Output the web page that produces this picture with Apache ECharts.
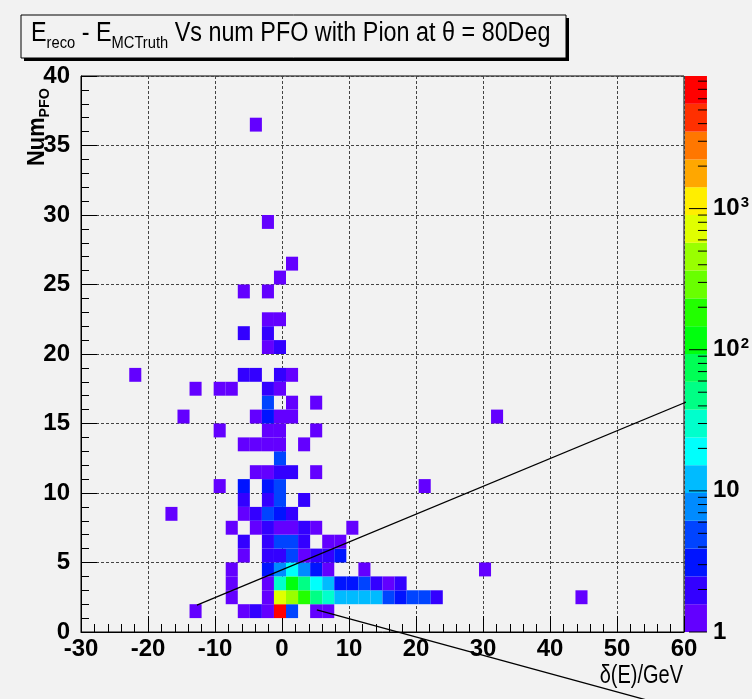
<!DOCTYPE html>
<html><head><meta charset="utf-8">
<script src="https://cdn.jsdelivr.net/npm/echarts@6/dist/echarts.min.js"></script>
<style>html,body{margin:0;padding:0;background:#f2f2f2}#c{width:752px;height:699px}</style>
</head><body><div id="c"></div>
<script>
// ---- histogram binning ----
const X_MIN = -30, X_MAX = 60, X_BINS = 50;
const Y_MIN = 0, Y_MAX = 40, Y_BINS = 40;
const xTickValues = [-30, -20, -10, 0, 10, 20, 30, 40, 50, 60];
const yTickValues = [0, 5, 10, 15, 20, 25, 30, 35, 40];
const zTickLabels = ['1', '10', '10{s|2}', '10{s|3}'];
const Z_MAX = 8700;

// ---- cells: x bin index, y bin index, counts ----
const cellXBin = [
  9,13,14,15,16,17,19,20,
  12,15,16,17,18,19,20,21,22,23,24,25,26,27,28,29,41,
  12,15,16,17,18,19,20,21,22,23,24,25,26,
  12,15,16,17,18,19,20,23,33,
  13,15,16,17,18,19,20,21,
  13,15,16,17,18,20,21,
  12,14,15,16,17,18,19,22,
  7,13,14,15,16,17,
  13,15,16,18,
  11,13,15,16,28,
  14,15,16,17,19,
  16,
  13,14,15,16,18,
  11,15,16,19,
  8,14,15,16,17,34,
  15,17,19,
  9,11,12,15,16,
  4,13,14,16,17,
  15,16,
  13,15,
  15,16,
  13,15,
  16,
  17,
  15,
  14
];
const cellYBin = [
  1,1,1,1,1,1,1,1,
  2,2,2,2,2,2,2,2,2,2,2,2,2,2,2,2,2,
  3,3,3,3,3,3,3,3,3,3,3,3,3,
  4,4,4,4,4,4,4,4,4,
  5,5,5,5,5,5,5,5,
  6,6,6,6,6,6,6,
  7,7,7,7,7,7,7,7,
  8,8,8,8,8,8,
  9,9,9,9,
  10,10,10,10,10,
  11,11,11,11,11,
  12,
  13,13,13,13,13,
  14,14,14,14,
  15,15,15,15,15,15,
  16,16,16,
  17,17,17,17,17,
  18,18,18,18,18,
  20,20,
  21,21,
  22,22,
  24,24,
  25,
  26,
  29,
  36
];
const cellCount = [
  1,1,2,1,8600,5,1,1,
  1,1,700,450,180,47,30,12,12,12,12,5,3,5,5,2,1,
  1,1,28,115,47,19,12,3,3,5,2,1,2,
  1,3,8,19,8,3,1,1,1,
  1,2,2,5,1,2,2,3,
  2,2,5,5,2,1,1,
  1,1,2,1,1,2,1,1,
  1,1,2,5,3,2,
  2,2,5,2,
  1,3,3,5,1,
  1,1,2,2,1,
  5,
  1,1,1,1,1,
  1,1,1,1,
  1,1,3,1,1,1,
  5,1,1,
  1,1,1,2,1,
  1,2,2,2,1,
  1,2,
  2,2,
  1,1,
  1,1,
  1,
  1,
  1,
  1
];

// ---- overlaid straight lines (data coordinates) ----
const lineA = [[-12.7, 1.94], [72, 18.88]];
const lineB = [[5.2, 1.6], [56, -5.1]];

// ---- palette (ROOT pretty palette, 20 contour bands) ----
const palette = ['#6300ff','#3300ff','#0014ff','#0044ff','#008bff','#00bbff','#00fffc','#00ffcc',
  '#00ff85','#00ff55','#00ff0e','#22ff00','#69ff00','#99ff00','#e0ff00','#ffee00','#ffa700',
  '#ff7700','#ff3000','#ff0000'];

const BW = (X_MAX - X_MIN) / X_BINS, BH = (Y_MAX - Y_MIN) / Y_BINS;
const LOG_MAX = Math.log10(Z_MAX);
const NB = palette.length;
function colorFor(z){
  let k = Math.floor(Math.log10(z) / LOG_MAX * NB);
  if (k < 0) k = 0; if (k > NB-1) k = NB-1;
  return palette[k];
}
const cellData = cellCount.map((c, n) => [cellXBin[n], cellYBin[n], c]);
const bandData = palette.map((c, k) => [k]);
const zTickData = [];
for (let d = 0; d < 4; d++) for (let m = 1; m <= 9; m++) {
  const v = Math.log10(m * Math.pow(10, d));
  if (v <= LOG_MAX) zTickData.push([v, m === 1 ? 1 : 0]);
}

const FONT = "'Liberation Sans',Arial,Helvetica,sans-serif";
const chart = echarts.init(document.getElementById('c'), null, {renderer: 'canvas'});
chart.setOption({
  backgroundColor: '#f2f2f2',
  animation: false,
  grid: [
    {left: 81, right: 68, top: 76, bottom: 67, show: true, borderColor: '#000', borderWidth: 1, backgroundColor: 'transparent'},
    {left: 685, width: 22, top: 76, bottom: 67}
  ],
  xAxis: [
    {type: 'value', gridIndex: 0, min: X_MIN, max: X_MAX, interval: 10,
     axisLine: {show: true, onZero: false, lineStyle: {color: '#000', width: 1}},
     axisTick: {show: true, inside: true, length: 16, lineStyle: {color: '#000'}},
     minorTick: {show: true, splitNumber: 5, length: 8, lineStyle: {color: '#000'}},
     axisLabel: {color: '#000', fontFamily: FONT, fontWeight: 'bold', fontSize: 24, margin: 5,
       formatter: v => xTickValues.includes(v) ? String(v) : ''},
     splitLine: {show: true, lineStyle: {color: '#444', type: [3, 2], width: 1}}},
    {type: 'value', gridIndex: 1, min: 0, max: 1, show: false}
  ],
  yAxis: [
    {type: 'value', gridIndex: 0, min: Y_MIN, max: Y_MAX, interval: 5,
     axisLine: {show: true, onZero: false, lineStyle: {color: '#000', width: 1}},
     axisTick: {show: true, inside: true, length: 16, lineStyle: {color: '#000'}},
     minorTick: {show: true, splitNumber: 5, length: 8, lineStyle: {color: '#000'}},
     axisLabel: {color: '#000', fontFamily: FONT, fontWeight: 'bold', fontSize: 24, margin: 11,
       formatter: v => yTickValues.includes(v) ? String(v) : ''},
     splitLine: {show: true, lineStyle: {color: '#444', type: [3, 2], width: 1}}},
    {type: 'value', gridIndex: 1, min: 0, max: LOG_MAX, interval: 1, position: 'right',
     axisLine: {show: false}, axisTick: {show: false}, splitLine: {show: false},
     axisLabel: {color: '#000', fontFamily: FONT, fontWeight: 'bold', fontSize: 24, margin: 6,
       formatter: v => (Math.abs(v - Math.round(v)) < 1e-9 && v <= 3) ? zTickLabels[Math.round(v)] : '',
       rich: {s: {fontFamily: FONT, fontWeight: 'bold', fontSize: 15, verticalAlign: 'top', padding: [0,0,12,1]}}}}
  ],
  series: [
    {type: 'custom', xAxisIndex: 0, yAxisIndex: 0, data: cellData, silent: true,
     encode: {x: 0, y: 1},
     renderItem: function(params, api){
       const i = api.value(0), j = api.value(1), z = api.value(2);
       const x0 = X_MIN + i * BW, y0 = Y_MIN + j * BH;
       const p0 = api.coord([x0, y0 + BH]), p1 = api.coord([x0 + BW, y0]);
       return {type: 'rect', shape: {x: p0[0], y: p0[1], width: p1[0] - p0[0], height: p1[1] - p0[1]},
               style: {fill: colorFor(z)}};
     }},
    {type: 'custom', xAxisIndex: 1, yAxisIndex: 1, data: bandData, silent: true,
     renderItem: function(params, api){
       const k = api.value(0), step = LOG_MAX / NB;
       const p0 = api.coord([0, (k + 1) * step]), p1 = api.coord([1, k * step]);
       return {type: 'rect', shape: {x: p0[0], y: p0[1], width: p1[0] - p0[0], height: p1[1] - p0[1]},
               style: {fill: palette[k]}};
     }},
    {type: 'custom', xAxisIndex: 1, yAxisIndex: 1, data: zTickData, silent: true, z: 5,
     renderItem: function(params, api){
       const v = api.value(0), major = api.value(1);
       const p = api.coord([1, v]);
       const len = major ? 18 : 9;
       return {type: 'line', shape: {x1: p[0], y1: p[1], x2: p[0] - len, y2: p[1]},
               style: {stroke: '#000', lineWidth: 1}};
     }},
    {type: 'line', xAxisIndex: 0, yAxisIndex: 0, data: lineA, clip: false, symbol: 'none', silent: true, z: 10,
     lineStyle: {color: '#000', width: 1.3}},
    {type: 'line', xAxisIndex: 0, yAxisIndex: 0, data: lineB, clip: false, symbol: 'none', silent: true, z: 10,
     lineStyle: {color: '#000', width: 1.3}}
  ],
  graphic: [
    {type: 'rect', x: 24, y: 18, shape: {width: 545, height: 43}, style: {fill: '#000'}, z: 10},
    {type: 'rect', x: 21, y: 15, shape: {width: 545, height: 43}, style: {fill: '#f2f2f2', stroke: '#000', lineWidth: 1}, z: 11},
    {type: 'text', x: 31, y: 18, scaleX: 0.865, z: 12, style: {
      text: '{n|E}{s|reco}{n| - E}{s|MCTruth}{n| Vs num PFO with Pion at θ = 80Deg}',
      verticalAlign: 'top', align: 'left',
      rich: {n: {fontFamily: FONT, fontSize: 27, lineHeight: 32, fill: '#000', verticalAlign: 'middle'},
             s: {fontFamily: FONT, fontSize: 17, lineHeight: 17, fill: '#000', verticalAlign: 'bottom', padding: [0,0,-2,0]}}}},
    {type: 'text', x: 683, y: 664, scaleX: 0.8, z: 12, style: {text: 'δ(E)/GeV', fontFamily: FONT, fontSize: 25,
      fill: '#000', align: 'right', verticalAlign: 'top'}},
    {type: 'text', x: 24, y: 166, rotation: Math.PI / 2, scaleX: 0.95, z: 12, style: {
      text: '{n|Num}{s|PFO}', verticalAlign: 'top', align: 'left',
      rich: {n: {fontFamily: FONT, fontWeight: 'bold', fontSize: 23, lineHeight: 28, fill: '#000', verticalAlign: 'middle'},
             s: {fontFamily: FONT, fontWeight: 'bold', fontSize: 15, lineHeight: 15, fill: '#000', verticalAlign: 'bottom'}}}}
  ]
});
</script></body></html>
